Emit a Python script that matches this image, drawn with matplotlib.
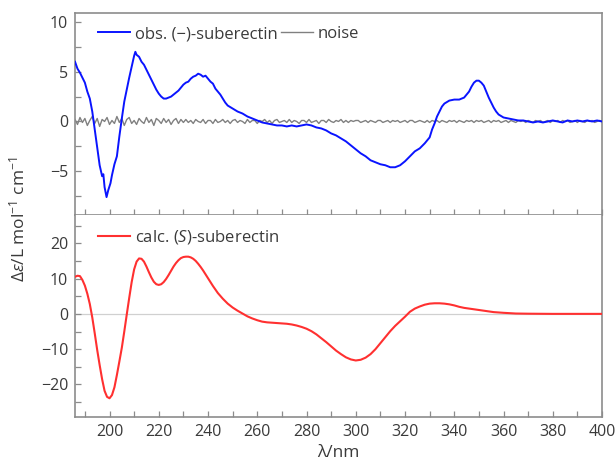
import numpy as np
import matplotlib
matplotlib.use("Agg")
import matplotlib.pyplot as plt
from matplotlib.ticker import MultipleLocator

plt.rcParams['font.family'] = ['Open Sans', 'DejaVu Sans']
plt.rcParams['mathtext.fontset'] = 'custom'
plt.rcParams['mathtext.rm'] = 'Open Sans'
plt.rcParams['mathtext.it'] = 'Open Sans:italic'

# === data ===

# observed CD spectrum of (-)-suberectin
obs_x = [186, 187, 188, 189, 190, 191, 192, 193, 194, 195, 196, 197, 197.5, 198, 198.8, 199.5,
         200.4, 201, 202, 203, 204, 205, 206, 207, 208, 209, 210, 210.5, 211, 212, 213, 214,
         215, 216, 217, 218, 219, 220, 221, 222, 223, 224, 225, 226, 227, 228, 229, 230,
         231, 232, 233, 234, 235, 236, 237, 238, 239, 240, 241, 242, 243, 244, 245, 246,
         247, 248, 250, 252, 254, 256, 258, 260, 262, 264, 266, 268, 270, 272, 274, 276,
         278, 280, 282, 284, 286, 288, 290, 292, 294, 296, 298, 300, 302, 304, 306, 308,
         310, 312, 314, 316, 318, 320, 322, 324, 326, 328, 330, 331, 332, 333, 334, 335,
         336, 338, 340, 342, 344, 345, 346, 347, 348, 349, 350, 351, 352, 353, 354, 355,
         356, 357, 358, 360, 362, 364, 366, 368, 370, 372, 374, 376, 378, 380, 382, 384,
         386, 388, 390, 392, 394, 396, 398, 400]
obs_y = [6.0, 5.3, 4.9, 4.4, 3.9, 3.0, 2.3, 1.0, -0.8, -2.6, -4.4, -5.5, -5.3, -6.6, -7.6, -6.9,
         -6.2, -5.4, -4.3, -3.5, -1.5, 0.3, 2.0, 3.2, 4.4, 5.5, 6.6, 7.0, 6.7, 6.5, 6.0, 5.7,
         5.2, 4.7, 4.2, 3.7, 3.2, 2.8, 2.5, 2.3, 2.3, 2.4, 2.5, 2.7, 2.9, 3.1, 3.4, 3.7,
         3.9, 4.0, 4.3, 4.5, 4.6, 4.8, 4.7, 4.5, 4.6, 4.3, 4.0, 3.8, 3.3, 3.0, 2.7, 2.3,
         1.9, 1.6, 1.3, 1.0, 0.8, 0.5, 0.3, 0.1, -0.1, -0.2, -0.3, -0.4, -0.4, -0.5, -0.4, -0.5,
         -0.4, -0.3, -0.4, -0.6, -0.7, -0.9, -1.2, -1.4, -1.7, -2.0, -2.4, -2.8, -3.2, -3.5, -3.9, -4.1,
         -4.3, -4.4, -4.6, -4.6, -4.4, -4.0, -3.5, -3.0, -2.7, -2.2, -1.6, -0.8, -0.2, 0.5, 1.0, 1.5,
         1.8, 2.1, 2.2, 2.2, 2.4, 2.7, 3.0, 3.5, 3.9, 4.1, 4.1, 3.9, 3.6, 3.0, 2.4, 1.9,
         1.4, 1.0, 0.7, 0.4, 0.3, 0.2, 0.1, 0.1, 0.0, -0.1, 0.0, -0.1, 0.0, 0.1, 0.0, -0.1,
         0.1, 0.0, 0.1, 0.0, 0.1, 0.0, 0.1, 0.0]

# baseline noise, one value per nm from 186 to 400
noise_x = list(range(186, 401))
noise_y = [0.2, -0.3, 0.4, -0.1, 0.3, -0.4, 0.1, 0.5, -0.2, 0.3, -0.5, 0.2, 0.0, 0.4, -0.3,
           0.1, -0.2, 0.5, -0.1, 0.3, -0.4, 0.2, 0.4, -0.2, 0.1, -0.3, 0.3, 0.0, -0.2, 0.4,
           -0.1, 0.2, -0.4, 0.3, 0.1, -0.2, 0.3, -0.1, 0.2, -0.3, 0.1, 0.3, -0.2, 0.2, -0.1,
           0.2, -0.1, 0.1, -0.2, 0.2, 0.0, -0.1, 0.2, -0.2, 0.1, 0.1, -0.2, 0.2, -0.1, 0.0,
           0.2, -0.1, 0.1, -0.2, 0.1, 0.2, -0.1, 0.1, 0.0, -0.2, 0.2, -0.1, 0.1, 0.1, -0.2,
           0.1, 0.0, 0.2, -0.1, 0.1, -0.2, 0.1, 0.2, -0.1, 0.0, 0.1, -0.1, 0.2, -0.1, 0.1,
           0.0, -0.2, 0.1, 0.1, -0.1, 0.2, -0.1, 0.0, 0.1, -0.2, 0.1, 0.1, -0.1, 0.2, 0.0,
           -0.1, 0.1, 0.0, 0.2, -0.1, 0.1, -0.1, 0.1, 0.0, 0.1,
           0.1, -0.1, 0.0, 0.1, -0.1, 0.1, 0.0, -0.1, 0.1, 0.1, -0.1, 0.0, 0.1, -0.1, 0.1,
           0.0, 0.1, -0.1, 0.0, 0.1, -0.1, 0.1, 0.1, -0.1, 0.0, 0.1, 0.0, -0.1, 0.1, -0.1,
           0.1, 0.0, 0.1, -0.1, 0.1, 0.0, -0.1, 0.1, 0.0, 0.1, -0.1, 0.1, 0.0, -0.1, 0.1,
           0.0, 0.1, -0.1, 0.1, 0.0, 0.1, -0.1, 0.0, 0.1, -0.1, 0.1, 0.0, 0.1, -0.1, 0.0,
           0.1, -0.1, 0.1, 0.0, -0.1, 0.1, 0.0, 0.1, -0.1, 0.1, 0.0, -0.1, 0.1, 0.0, 0.1,
           -0.1, 0.0, 0.1, -0.1, 0.1, 0.0, 0.1, -0.1, 0.1, 0.0,
           0.1, -0.1, 0.0, 0.1, -0.1, 0.1, 0.0, -0.1, 0.1, 0.0, 0.1, -0.1, 0.0, 0.1, 0.0]

# calculated CD spectrum of (S)-suberectin
calc_x = [186, 187, 188, 189, 190, 191, 192, 193, 194, 195, 196, 197, 198, 199, 200, 201,
          202, 203, 204, 205, 206, 207, 208, 209, 210, 211, 212, 213, 214, 215, 216, 217,
          218, 219, 220, 221, 222, 223, 224, 225, 226, 227, 228, 229, 230, 231, 232, 233,
          234, 235, 236, 237, 238, 239, 240, 242, 244, 246, 248, 250, 252, 254, 256, 258,
          260, 262, 264, 266, 268, 270, 272, 274, 276, 278, 280, 282, 284, 286, 288, 290,
          292, 294, 296, 298, 300, 302, 304, 306, 308, 310, 312, 314, 316, 318, 320, 322,
          324, 326, 328, 330, 332, 334, 336, 338, 340, 342, 344, 346, 348, 350, 352, 356,
          360, 365, 370, 380, 390, 400]
calc_y = [10.5, 10.8, 10.7, 9.6, 8.0, 5.7, 2.8, -1.0, -5.5, -10.2, -14.5, -18.5, -21.8, -23.5, -23.9, -23.0,
          -20.8, -17.3, -13.5, -9.6, -5.0, -0.2, 4.5, 9.0, 12.6, 14.8, 15.7, 15.6, 14.8, 13.4, 11.8, 10.3,
          9.1, 8.4, 8.2, 8.4, 9.0, 9.9, 11.0, 12.2, 13.4, 14.4, 15.2, 15.8, 16.1, 16.2, 16.2, 16.0,
          15.6, 15.0, 14.2, 13.3, 12.3, 11.2, 10.1, 7.9, 5.9, 4.3, 2.9, 1.8, 0.9, 0.1, -0.7, -1.3,
          -1.8, -2.2, -2.4, -2.5, -2.6, -2.7, -2.8, -3.0, -3.3, -3.7, -4.2, -4.9, -5.8, -6.9, -8.0, -9.2,
          -10.4, -11.4, -12.3, -12.9, -13.2, -13.0, -12.4, -11.4, -10.0, -8.3, -6.6, -4.9, -3.4, -2.1, -0.8, 0.6,
          1.5, 2.1, 2.6, 2.9, 3.0, 3.0, 2.9, 2.7, 2.4, 2.0, 1.7, 1.5, 1.3, 1.1, 0.9, 0.5,
          0.3, 0.1, 0.05, 0.0, 0.0, 0.0]

x_ticks = [200, 220, 240, 260, 280, 300, 320, 340, 360, 380, 400]
top_ticks = [-5, 0, 5, 10]
bottom_ticks = [-20, -10, 0, 10, 20]

TEXT = '#3a3a3a'
SPINE = '#8c8c8c'

# === figure ===

fig = plt.figure(figsize=(6.16, 4.66), dpi=100)
ax1 = fig.add_axes([0.1218, 0.5386, 0.8555, 0.4335])
ax2 = fig.add_axes([0.1218, 0.1052, 0.8555, 0.4334], sharex=ax1)

ax1.plot(noise_x, noise_y[:len(noise_x)], color='#808080', lw=1.0, label='noise', zorder=2)
ax1.plot(obs_x, obs_y, color='#0a14ff', lw=1.4, label='obs. (\u2212)-suberectin', zorder=3)

ax2.axhline(0, color='#d0d0d0', lw=0.9, zorder=1)
ax2.plot(calc_x, calc_y, color='#ff3030', lw=1.5, label=r'calc. ($\mathit{S}$)-suberectin', zorder=3)

ax1.set_xlim(186, 400)
ax1.set_ylim(-9.4, 10.9)
ax2.set_ylim(-29.2, 28.0)

ax1.set_yticks(top_ticks)
ax1.yaxis.set_minor_locator(MultipleLocator(2.5))
ax2.set_yticks(bottom_ticks)
ax2.yaxis.set_minor_locator(MultipleLocator(5))
ax2.set_xticks(x_ticks)
ax2.xaxis.set_minor_locator(MultipleLocator(10))

for ax in (ax1, ax2):
    for sp in ax.spines.values():
        sp.set_color(SPINE)
        sp.set_linewidth(1.2)
    ax.tick_params(which='both', direction='in', colors=SPINE, labelcolor=TEXT,
                   labelsize=11.5, length=4, width=0.9, pad=5,
                   top=False, right=False)
ax1.tick_params(axis='x', which='both', labelbottom=False)
ax2.spines['top'].set_visible(False)

# legends
h1, l1 = ax1.get_legend_handles_labels()
ax1.legend([h1[1], h1[0]], [l1[1], l1[0]], loc='upper left', bbox_to_anchor=(0.025, 0.985),
           ncol=2, frameon=False, fontsize=12, handlelength=1.9, handletextpad=0.3,
           columnspacing=0.2, borderaxespad=0.2, labelcolor=TEXT)
ax2.legend(loc='upper left', bbox_to_anchor=(0.025, 0.985), frameon=False, fontsize=12,
           handlelength=1.9, handletextpad=0.3, borderaxespad=0.2, labelcolor=TEXT)

ax2.set_xlabel('\u03bb/nm', fontsize=12.5, color=TEXT, labelpad=4)
fig.text(0.03, 0.53, r'$\mathit{\Delta\varepsilon}$/L mol$^{-1}$ cm$^{-1}$', rotation=90,
         ha='center', va='center', fontsize=12.5, color=TEXT)

fig.savefig('out.png', dpi=100)
